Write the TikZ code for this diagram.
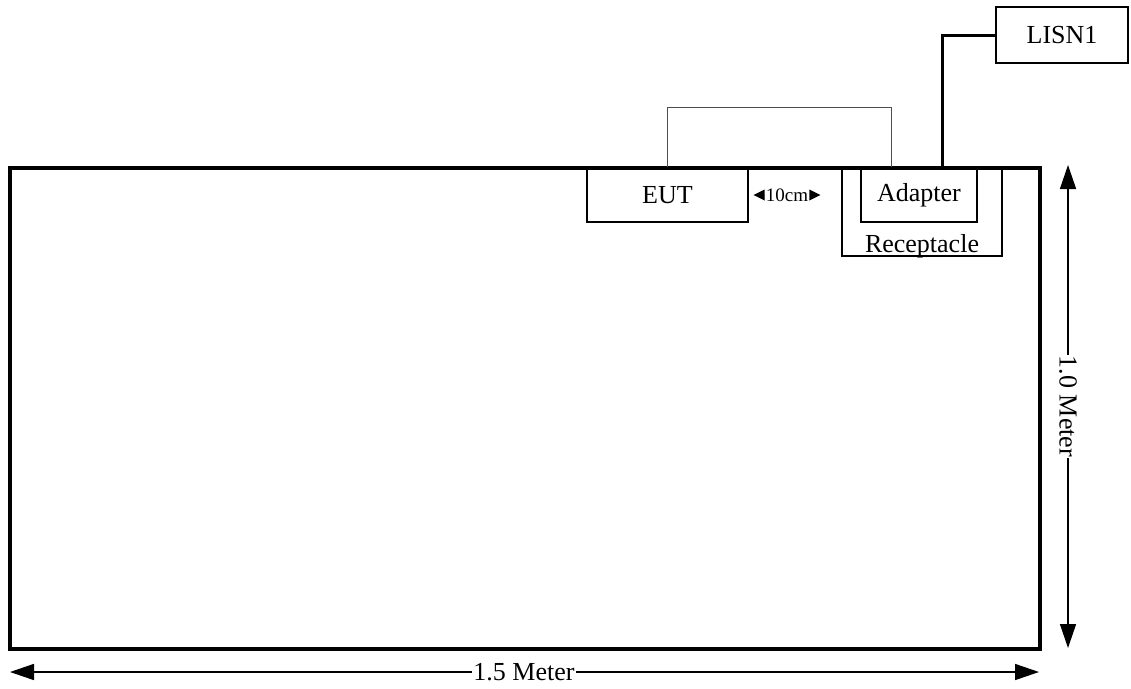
\documentclass[tikz,border=0pt]{standalone}
\usepackage{fontspec}
\setmainfont{Liberation Serif}
\usetikzlibrary{arrows.meta}
\begin{document}
\begin{tikzpicture}[x=1pt,y=-1pt,
  box/.style={draw, line width=1.5pt, inner sep=0pt, font=\fontsize{26}{30}\selectfont},
  lbl/.style={inner sep=0pt, font=\fontsize{26}{30}\selectfont},
  dim/.style={line width=1.5pt, {Triangle[length=24pt,width=16pt]}-{Triangle[length=24pt,width=16pt]}},
  thin cable/.style={line width=1pt, draw=black!70},
  thick cable/.style={line width=3pt}]
\useasboundingbox (0,0) rectangle (1131,688);
% table
\draw[line width=3.5pt] (10,168) rectangle (1040,649);
% boxes
\node[box, fill=white, minimum width=161pt, minimum height=54pt] (eut) at (667.5,195) {EUT};
\node[box, fill=white, minimum width=160pt, minimum height=88pt] (rec) at (922,212) {};
\node[lbl, anchor=base] (reclbl) at (922,252) {Receptacle};
\node[box, fill=white, minimum width=116pt, minimum height=54pt] (adp) at (919,195) {Adapter};
\node[box, minimum width=132pt, minimum height=56pt] (lisn) at (1062,35) {LISN1};
% redraw table top over boxes
\draw[line width=3.5pt] (10,168) -- (1040,168);
% cables
\draw[thin cable] (eut.north) -- ++(0,-60) -| ([xshift=-28pt]adp.north);
\draw[thick cable] ([xshift=23pt]adp.north) |- (lisn.west);
% 10cm
\node[inner sep=0pt, font=\fontsize{19}{22}\selectfont] (tcm) at (787,195) {10cm};
\fill ([xshift=-1pt]tcm.west) -- ++(-11,0) -- ++(11,-5.5) -- ++(0,11) -- cycle;
\fill ([xshift=-1pt]tcm.west) -- ++(-11,0) -- ++(11,5.5) -- cycle;
\fill ([xshift=1pt]tcm.east) -- ++(11,0) -- ++(-11,-5.5) -- cycle;
\fill ([xshift=1pt]tcm.east) -- ++(11,0) -- ++(-11,5.5) -- cycle;
% dimensions
\coordinate (hl) at (10,672);
\coordinate (hr) at (1039,672);
\draw[dim] (hl) -- (hr);
\node[lbl, fill=white, inner xsep=1pt] (hlab) at (524,672) {1.5 Meter};
\coordinate (vt) at (1068,165);
\coordinate (vb) at (1068,648);
\draw[dim] (vt) -- (vb);
\node[lbl, fill=white, inner xsep=1pt, rotate=-90] (vlab) at (1068,406.5) {1.0 Meter};
\end{tikzpicture}
\end{document}
